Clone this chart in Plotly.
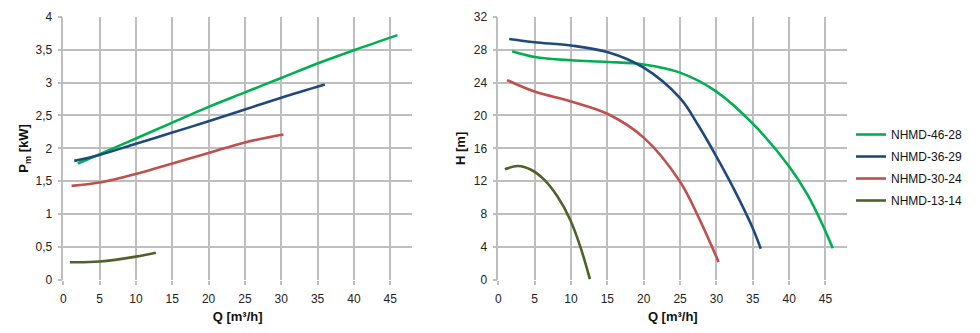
import plotly.graph_objects as go

# Pump series
names = ["NHMD-46-28", "NHMD-36-29", "NHMD-30-24", "NHMD-13-14"]
colors = ["#00B050", "#1F497D", "#C0504D", "#4F6228"]

# Shaft power curves  Pm [kW] vs Q [m3/h]
p_q_46 = [2, 5, 10, 15, 20, 25, 30, 35, 40, 46]
p_46 = [1.77, 1.91, 2.15, 2.39, 2.63, 2.85, 3.07, 3.29, 3.49, 3.72]
p_q_36 = [1.5, 5, 10, 15, 20, 25, 30, 36]
p_36 = [1.81, 1.90, 2.07, 2.24, 2.41, 2.59, 2.77, 2.97]
p_q_30 = [1.15, 5, 10, 15, 20, 25, 30.3]
p_30 = [1.43, 1.48, 1.61, 1.77, 1.93, 2.09, 2.21]
p_q_13 = [0.9, 5, 10, 12.75]
p_13 = [0.27, 0.28, 0.355, 0.415]

# Head curves  H [m] vs Q [m3/h]
h_q_46 = [1.9, 5, 10, 15, 20, 25, 30, 35, 40, 42.5, 44.5, 46]
h_46 = [27.8, 27.1, 26.7, 26.5, 26.2, 25.2, 22.9, 19.0, 13.8, 10.4, 6.9, 3.85]
h_q_36 = [1.5, 5, 10, 15, 20, 25, 27.5, 30, 32.5, 35, 36.1]
h_36 = [29.3, 28.9, 28.5, 27.7, 25.8, 22.1, 18.8, 15.0, 10.9, 6.3, 3.8]
h_q_30 = [1.2, 5, 10, 15, 20, 25, 27.5, 30.3]
h_30 = [24.3, 22.9, 21.7, 20.2, 17.3, 11.95, 7.7, 2.2]
h_q_13 = [0.9, 2.7, 4.5, 6.3, 8.1, 9.9, 11.3, 12.6]
h_13 = [13.45, 13.85, 13.4, 12.2, 10.2, 7.3, 4.0, 0.1]

power_sets = [(p_q_46, p_46), (p_q_36, p_36), (p_q_30, p_30), (p_q_13, p_13)]
head_sets = [(h_q_46, h_46), (h_q_36, h_36), (h_q_30, h_30), (h_q_13, h_13)]

fig = go.Figure()
for name, color, (q, p) in zip(names, colors, power_sets):
    fig.add_trace(go.Scatter(x=q, y=p, mode="lines", name=name, legendgroup=name,
                             showlegend=False, xaxis="x", yaxis="y",
                             line=dict(color=color, width=2.6, shape="spline", smoothing=1.0)))
for name, color, (q, h) in zip(names, colors, head_sets):
    fig.add_trace(go.Scatter(x=q, y=h, mode="lines", name=name, legendgroup=name,
                             showlegend=True, xaxis="x2", yaxis="y2",
                             line=dict(color=color, width=2.6, shape="spline", smoothing=1.0)))

grid = "#BEBEBE"
family = "Liberation Sans, Arial, sans-serif"
tickfont = dict(family=family, size=12, color="#222222")
titlefont = dict(family=family, size=13, color="#111111")

common_x = dict(range=[0, 48], dtick=5, tick0=0, showgrid=True, gridcolor=grid, gridwidth=1.5,
                showline=False, zeroline=False, ticks="outside", ticklen=4, tickcolor=grid,
                tickwidth=1.5, tickfont=tickfont, ticklabelstandoff=4, automargin=False,
                fixedrange=True)
common_y = dict(showgrid=True, gridcolor=grid, gridwidth=1.5, showline=True, linecolor=grid,
                linewidth=1.5, zeroline=False, ticks="outside", ticklen=4, tickcolor=grid,
                tickwidth=1.5, tickfont=tickfont, ticklabelstandoff=3, automargin=False,
                fixedrange=True)

y_dom = [1 - 280 / 333, 1 - 16.7 / 333]
fig.update_layout(
    width=980, height=333,
    margin=dict(l=0, r=0, t=0, b=0),
    paper_bgcolor="white", plot_bgcolor="white",
    separators=", ",
    xaxis=dict(common_x, domain=[63.3 / 980, 412 / 980], anchor="y",
               title=dict(text="<b>Q [m³/h]</b>", font=titlefont, standoff=6)),
    yaxis=dict(common_y, domain=y_dom, anchor="x", range=[0, 4], dtick=0.5,
               title=dict(text="<b>P<sub>m</sub> [kW]</b>", font=titlefont, standoff=4)),
    xaxis2=dict(common_x, domain=[498.3 / 980, 847.3 / 980], anchor="y2",
                title=dict(text="<b>Q [m³/h]</b>", font=titlefont, standoff=6)),
    yaxis2=dict(common_y, domain=y_dom, anchor="x2", range=[0, 32], dtick=4,
                title=dict(text="<b>H [m]</b>", font=titlefont, standoff=5)),
    legend=dict(x=851 / 980, y=1 - 120 / 333, xanchor="left", yanchor="top",
                font=dict(family=family, size=12, color="#111111"),
                tracegroupgap=3, itemwidth=30, bgcolor="rgba(0,0,0,0)"),
    showlegend=True,
)

fig.write_html("out.html")
